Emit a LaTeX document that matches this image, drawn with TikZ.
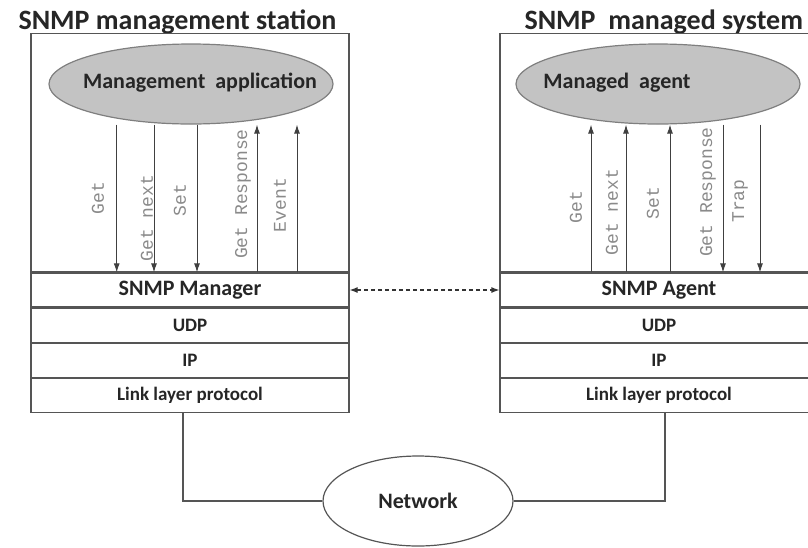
\documentclass[tikz,border=0pt]{standalone}
\usepackage{fontspec}
\setmainfont{Carlito}
\newfontfamily\codefont{Liberation Mono}
\usetikzlibrary{arrows.meta,positioning,shapes.geometric}
\definecolor{boxgray}{HTML}{555555}
\definecolor{ellgray}{HTML}{7F7F7F}
\definecolor{ellfill}{HTML}{C3C3C3}
\definecolor{lblgray}{HTML}{8A8A8A}

\begin{document}
\begin{tikzpicture}[x=1pt,y=-1pt,
layer/.style={draw=boxgray,line width=1.2pt,minimum width=318pt,minimum height=34pt,inner sep=0pt,
  text=black!85,font=\bfseries\fontsize{19}{19}\selectfont},
toplayer/.style={layer,font=\bfseries\fontsize{22}{22}\selectfont},
host/.style={draw=boxgray,line width=1.2pt,minimum width=318pt,minimum height=238pt,inner sep=0pt,anchor=south},
proc/.style={ellipse,draw=ellgray,fill=ellfill,line width=1.2pt,minimum width=284pt,minimum height=80pt,inner sep=0pt},
proctext/.style={text=black!85,font=\bfseries\fontsize{22}{22}\selectfont},
msg/.style={line width=1pt,draw=black!75,-{Latex[length=9pt,width=6pt]}},
cmd/.style={rotate=90,text=lblgray,font=\codefont\fontsize{18}{18}\selectfont},
head/.style={anchor=base west,text=black!85,font=\bfseries\fontsize{28}{28}\selectfont},
wire/.style={draw=boxgray,line width=1.2pt}]
\clip (0,0) rectangle (808,547);

% management station
\node[head] (lhead) at (15,29) {SNMP management station};
\node[toplayer] (mgr) at (190,290) {SNMP Manager};
\node[layer] (udp) [below=0pt of mgr] {UDP};
\node[layer] (ip) [below=0pt of udp] {IP};
\node[layer] (link) [below=0pt of ip] {Link layer protocol};
\node[host] (stn) at (mgr.north) {};
\node[proc] (app) at (191,84) {};
\node[proctext] (apptxt) at (200,83) {Management\ \ application};

\foreach \ax/\lx/\ly/\txt in {116.7/98/198/Get,154/147/218/Get next,197/180/200/Set}{
  \draw[msg] (app.south -| \ax,0) -- (mgr.north -| \ax,0);
  \node[cmd] at (\lx,\ly) {\txt};
}
\foreach \ax/\lx/\ly/\txt in {257/243/194/Get Response,297/280/205/Event}{
  \draw[msg] (mgr.north -| \ax,0) -- (app.south -| \ax,0);
  \node[cmd] at (\lx,\ly) {\txt};
}

% managed system
\node[head] (rhead) at (521,29) {SNMP\ \ managed system};
\node[toplayer] (agt) at (659,290) {SNMP Agent};
\node[layer] (rudp) [below=0pt of agt] {UDP};
\node[layer] (rip) [below=0pt of rudp] {IP};
\node[layer] (rlink) [below=0pt of rip] {Link layer protocol};
\node[host] (sys) at (agt.north) {};
\node[proc] (agent) at (658,84) {};
\node[proctext] (agenttxt) at (617,83) {Managed\ \ agent};

\foreach \ax/\lx/\ly/\txt in {591/576/207/Get,626/612/212/Get next,670/653/203/Set}{
  \draw[msg] (agt.north -| \ax,0) -- (agent.south -| \ax,0);
  \node[cmd] at (\lx,\ly) {\txt};
}
\foreach \ax/\lx/\ly/\txt in {723/708/192/Get Response,760/740/201/Trap}{
  \draw[msg] (agent.south -| \ax,0) -- (agt.north -| \ax,0);
  \node[cmd] at (\lx,\ly) {\txt};
}

% peer link and network
\draw[line width=1.2pt,draw=black!80,dash pattern=on 4pt off 3pt,
  {Latex[length=8pt,width=6pt]}-{Latex[length=8pt,width=6pt]}] (mgr.east) -- (agt.west);
\node[ellipse,draw=boxgray,line width=1.2pt,minimum width=190pt,minimum height=90pt,
  text=black!85,font=\bfseries\fontsize{22}{22}\selectfont] (net) at (418,501) {Network};
\draw[wire] (link.south) ++(-7,0) |- (net.west);
\draw[wire] (rlink.south) ++(6,0) |- (net.east);
\end{tikzpicture}
\end{document}
